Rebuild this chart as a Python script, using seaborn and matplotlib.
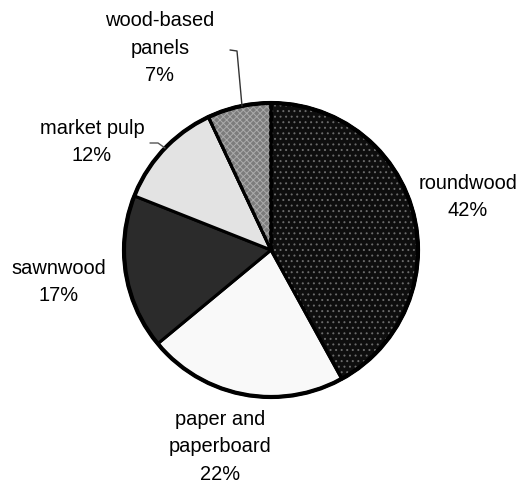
import matplotlib
matplotlib.use("Agg")
import matplotlib.pyplot as plt
import seaborn as sns

categories = ["roundwood", "paper and\npaperboard", "sawnwood", "market pulp", "wood-based\npanels"]
shares = [42, 22, 17, 12, 7]

face_colors = ["#0e0e0e", "#f9f9f9", "#2b2b2b", "#e3e3e3", "#7c7c7c"]
hatch_styles = ["...", None, None, None, "xxxxx"]
hatch_colors = ["#6a6a6a", None, None, None, "#ababab"]

sns.set_style("white")
plt.rcParams["font.family"] = ["Liberation Sans", "DejaVu Sans"]
plt.rcParams["hatch.linewidth"] = 0.7

W, H = 522, 487
fig = plt.figure(figsize=(W / 100, H / 100), dpi=100)
ax = fig.add_axes([0, 0, 1, 1])

cx, cy, r = 271, H - 250, 147

wedges, _ = ax.pie(shares, colors=face_colors, startangle=90, counterclock=False,
                   center=(cx, cy), radius=r, frame=True,
                   wedgeprops=dict(edgecolor="black", linewidth=2.2))
ax.set_xlim(0, W)
ax.set_ylim(0, H)
ax.axis("off")

# hatch overlays
for w, hs, hc in zip(wedges, hatch_styles, hatch_colors):
    if hs:
        ov = matplotlib.patches.Wedge(w.center, w.r, w.theta1, w.theta2,
                                      facecolor="none", edgecolor=hc, hatch=hs,
                                      linewidth=0)
        ax.add_patch(ov)
        ol = matplotlib.patches.Wedge(w.center, w.r, w.theta1, w.theta2,
                                      facecolor="none", edgecolor="black", linewidth=2.2)
        ax.add_patch(ol)

# outer rim slightly thicker
ax.add_patch(matplotlib.patches.Circle((cx, cy), r, facecolor="none",
                                       edgecolor="black", linewidth=3))

label_pos = [(468, 197), (220, 447), (59, 282), (92, 142), (160, 48)]
for name, val, (x, y) in zip(categories, shares, label_pos):
    ax.text(x, H - y, f"{name}\n{val}%", ha="center", va="center",
            fontsize=14.4, linespacing=1.55, color="black")

# leader lines
ax.plot([230, 237, 242], [H - 50, H - 51, H - 106], color="#333333", lw=1)
ax.plot([150, 158, 165], [H - 143, H - 143, H - 148], color="#555555", lw=1)

fig.savefig("out.png", dpi=100)
